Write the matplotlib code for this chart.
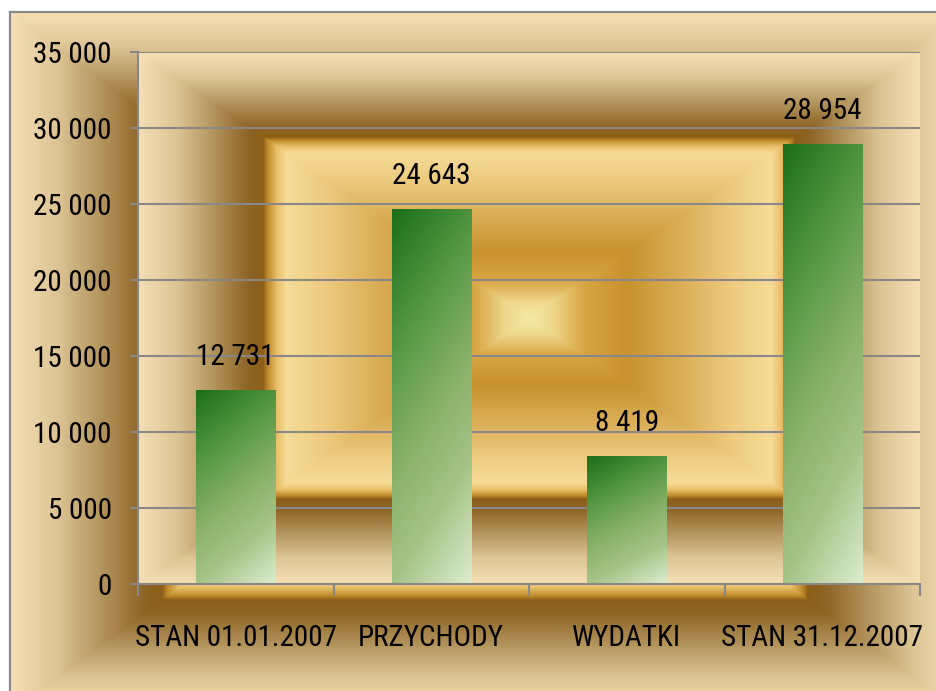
import numpy as np
import matplotlib
matplotlib.use("Agg")
import matplotlib.pyplot as plt
import matplotlib.font_manager as fm
from matplotlib.font_manager import FontProperties
from matplotlib.colors import to_rgb
from matplotlib.lines import Line2D
import os

# ---------------- data ----------------
categories = ["STAN 01.01.2007", "PRZYCHODY", "WYDATKI", "STAN 31.12.2007"]
values = [12731, 24643, 8419, 28954]
y_ticks = [0, 5000, 10000, 15000, 20000, 25000, 30000, 35000]


def fmt(v):
    return f"{v:,}".replace(",", " ")


# ---------------- font (prefer a condensed face) ----------------
files = [f.fname for f in fm.fontManager.ttflist]
prefs = ["notosans-extracondensed.", "robotocondensed-regular", "liberationsansnarrow-regular",
         "notosans-condensed.", "opensans_condensed-regular", "opensans-condensedregular",
         "dejavusanscondensed."]
chosen = None
for p in prefs:
    for fn in files:
        if p in os.path.basename(fn).lower():
            chosen = fn
            break
    if chosen:
        break
if chosen is None:
    bad = ("bold", "italic", "light", "thin", "black", "medium", "semi", "oblique", "extrabold")
    for fn in files:
        b = os.path.basename(fn).lower()
        if ("condensed" in b or "narrow" in b) and not any(k in b for k in bad):
            chosen = fn
            break

if chosen:
    FS = 21
    FP = FontProperties(fname=chosen, size=FS)
else:
    FS = 19
    FP = FontProperties(family="Liberation Sans", size=FS)

# ---------------- textures ----------------
GOLD_POS = [0.00, 0.06, 0.14, 0.25, 0.40, 0.52, 0.62, 0.645, 0.668, 0.68, 0.72, 0.80, 0.90, 1.00]
GOLD_COL = ["#f3eaa8", "#efd88c", "#d8a544", "#c8922e", "#dcb05a", "#eccb80",
            "#f7dc98", "#e8bf68", "#c08a2a", "#8c5e1a", "#8e6626", "#b09058",
            "#dcc494", "#f6e0b6"]
GOLD_RGB = np.array([to_rgb(c) for c in GOLD_COL])


def gold(d):
    return np.stack([np.interp(d, GOLD_POS, GOLD_RGB[:, i]) for i in range(3)], -1)


def rect_tex(w, h, cx, cy, hw, hh):
    yy, xx = np.mgrid[0:h, 0:w] + 0.5
    d = np.maximum(np.abs(xx - cx) / hw, np.abs(yy - cy) / hh)
    return gold(np.clip(d, 0, 1)), xx, yy


GREEN_POS = [0.0, 0.3, 0.55, 0.75, 1.0]
GREEN_RGB = np.array([to_rgb(c) for c in ["#1b6f18", "#579945", "#8bb26b", "#a6c387", "#dcedce"]])


def green(s):
    return np.stack([np.interp(s, GREEN_POS, GREEN_RGB[:, i]) for i in range(3)], -1)


W, H = 936, 691
fig = plt.figure(figsize=(W / 100, H / 100), dpi=100)
fig.patch.set_facecolor("white")

# chart-area background
bg_ax = fig.add_axes([0, 0, 1, 1], zorder=-5)
bg_ax.set_axis_off()
bg, xx, yy = rect_tex(W, H, 485, 362, 475, 350)
bg[(xx < 10) | (yy < 12)] = 1.0
bg_ax.imshow(bg, extent=(0, W, H, 0), interpolation="bilinear", aspect="auto")
bg_ax.set_xlim(0, W)
bg_ax.set_ylim(H, 0)
bg_ax.add_line(Line2D([10, 10], [12, H], color="#8a8a8a", lw=1.6))
bg_ax.add_line(Line2D([10, W], [12, 12], color="#8a8a8a", lw=1.6))

# plot area
L, R, T, B = 138, 920, 52, 584
ax = fig.add_axes([L / W, 1 - B / H, (R - L) / W, (B - T) / H])
ax.patch.set_visible(False)

x = np.arange(len(categories))
xlim = (-0.5, len(categories) - 0.5)
ylim = (0, 35000)

pw, ph = R - L, B - T
ptex, _, _ = rect_tex(pw, ph, pw / 2, ph / 2, pw / 2, ph / 2)
ax.imshow(ptex, extent=(xlim[0], xlim[1], ylim[0], ylim[1]), origin="upper",
          aspect="auto", interpolation="bilinear", zorder=0)

bars = ax.bar(x, values, width=0.405, color="none", edgecolor="none", zorder=2)
uu = np.linspace(0, 1, 60)[None, :]
vv = np.linspace(0, 1, 300)[:, None]
gtex = green(0.75 * vv + 0.25 * uu)
for b in bars:
    x0, w, h = b.get_x(), b.get_width(), b.get_height()
    im = ax.imshow(gtex, extent=(x0, x0 + w, 0, h), origin="upper", aspect="auto",
                   interpolation="bilinear", zorder=2)
    im.set_clip_path(b)

for xi, v in zip(x, values):
    ax.annotate(fmt(v), (xi, v), xytext=(0, 18), textcoords="offset points",
                ha="center", va="baseline", color="black", fontproperties=FP)

ax.set_xlim(*xlim)
ax.set_ylim(*ylim)
ax.set_yticks(y_ticks)
ax.set_yticklabels([fmt(t) for t in y_ticks], fontproperties=FP)
ax.set_xticks(x)
ax.set_xticklabels(categories, fontproperties=FP)
ax.set_xticks(np.arange(len(categories) + 1) - 0.5, minor=True)

GRAY = "#888888"
ax.tick_params(axis="x", which="major", length=0, pad=29)
ax.tick_params(axis="x", which="minor", length=8.6, width=1.5, color=GRAY)
ax.tick_params(axis="y", length=5.8, width=1.5, color=GRAY, pad=13)
ax.set_axisbelow(True)
ax.yaxis.grid(True, color=GRAY, lw=1.5, zorder=0.5)
ax.xaxis.grid(False)
for s in ["top", "right"]:
    ax.spines[s].set_visible(False)
for s in ["left", "bottom"]:
    ax.spines[s].set_color(GRAY)
    ax.spines[s].set_linewidth(1.5)
    ax.spines[s].set_zorder(3)

fig.savefig("out.png", dpi=100)
